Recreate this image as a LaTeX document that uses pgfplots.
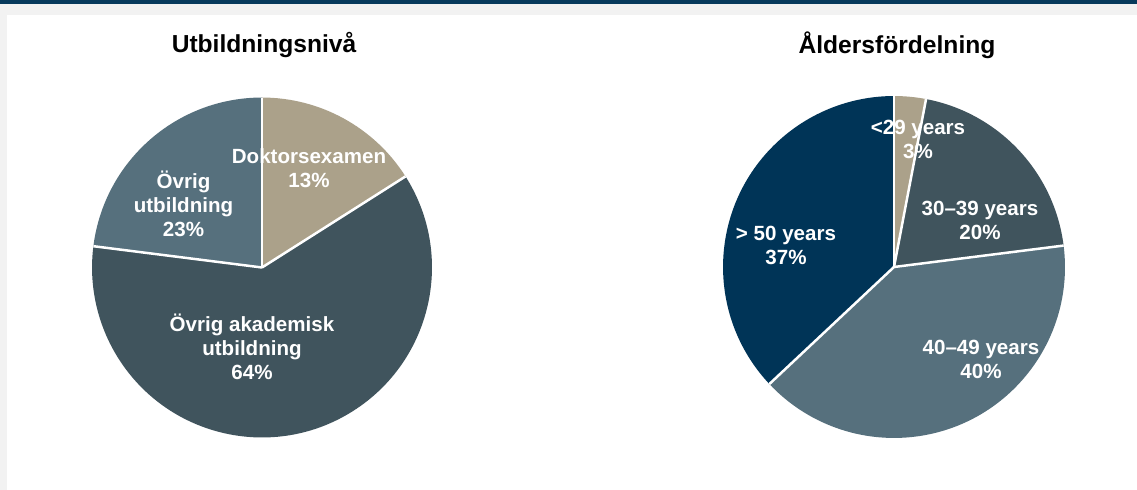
\documentclass[border=0pt]{standalone}
\usepackage{fontspec}
\setmainfont{Liberation Sans}
\usepackage{pgfplots}
\usepackage{pgfplotstable}
\pgfplotsset{compat=1.18}

\definecolor{pietan}{HTML}{ABA18A}
\definecolor{piedark}{HTML}{40545D}
\definecolor{piemid}{HTML}{56707D}
\definecolor{pienavy}{HTML}{003457}
\definecolor{topbar}{HTML}{073A5C}
\definecolor{frame}{HTML}{F2F2F2}

% shares as drawn, clockwise from 12 o'clock
\pgfplotstableread{
share col
16 pietan
61 piedark
23 piemid
}\utbildning

\pgfplotstableread{
share col
3 pietan
20 piedark
40 piemid
37 pienavy
}\alder

% #1 table, #2 #3 centre (axis units), #4 radius
\newcommand\drawpie[4]{%
  \pgfplotstablegetrowsof{#1}%
  \pgfmathtruncatemacro\lastrow{\pgfplotsretval-1}%
  \gdef\cumshare{0}%
  \foreach \i in {0,...,\lastrow}{%
    \pgfplotstablegetelem{\i}{share}\of{#1}\let\share\pgfplotsretval
    \pgfplotstablegetelem{\i}{col}\of{#1}\let\slicecol\pgfplotsretval
    \pgfmathsetmacro\angA{90-3.6*\cumshare}%
    \pgfmathsetmacro\angB{90-3.6*(\cumshare+\share)}%
    \fill[fill=\slicecol] (axis cs:#2,#3) -- ++(\angA:#4)
      arc[start angle=\angA, end angle=\angB, radius=#4] -- cycle;
    \pgfmathsetmacro\newcum{\cumshare+\share}%
    \xdef\cumshare{\newcum}%
  }%
  \gdef\cumshare{0}%
  \foreach \i in {0,...,\lastrow}{%
    \pgfplotstablegetelem{\i}{share}\of{#1}\let\share\pgfplotsretval
    \pgfmathsetmacro\angA{90-3.6*\cumshare}%
    \draw[white, line width=0.05cm] (axis cs:#2,#3) -- ++(\angA:#4);
    \pgfmathsetmacro\newcum{\cumshare+\share}%
    \xdef\cumshare{\newcum}%
  }%
}

\begin{document}
\begin{tikzpicture}[
    lbl/.style={text=white, font=\fontsize{11.7}{13.7}\selectfont\bfseries, align=center},
    ttl/.style={text=black, font=\fontsize{14}{16}\selectfont\bfseries},
]
\begin{axis}[
    hide axis,
    x=0.02cm, y=0.02cm,
    xmin=0, xmax=1137, ymin=0, ymax=490,
    clip=false,
    at={(0,0)}, anchor=origin,
]
\addplot[draw=none] coordinates {(0,0) (1137,490)};
\pgfplotsextra{
  \fill[frame] (axis cs:0,0) rectangle (axis cs:1137,490);
  \fill[white] (axis cs:7,0) rectangle (axis cs:1137,475);
  \fill[topbar] (axis cs:0,485.5) rectangle (axis cs:1137,490);

  \drawpie{\utbildning}{262}{222.5}{3.4cm}
  \drawpie{\alder}{894}{223}{3.42cm}

  \node[ttl] at (axis cs:264,445) {Utbildningsnivå};
  \node[ttl] at (axis cs:897,445) {Åldersfördelning};

  \node[lbl] at (axis cs:309,321.5) {Doktorsexamen\\13\%};
  \node[lbl] at (axis cs:183.5,286) {Övrig\\utbildning\\23\%};
  \node[lbl] at (axis cs:252,143) {Övrig akademisk\\utbildning\\64\%};

  \node[lbl] at (axis cs:918,350.5) {<29 years\\3\%};
  \node[lbl] at (axis cs:980,269.5) {30–39 years\\20\%};
  \node[lbl] at (axis cs:981,131) {40–49 years\\40\%};
  \node[lbl] at (axis cs:786,245) {> 50 years\\37\%};
}
\end{axis}
\end{tikzpicture}
\end{document}
